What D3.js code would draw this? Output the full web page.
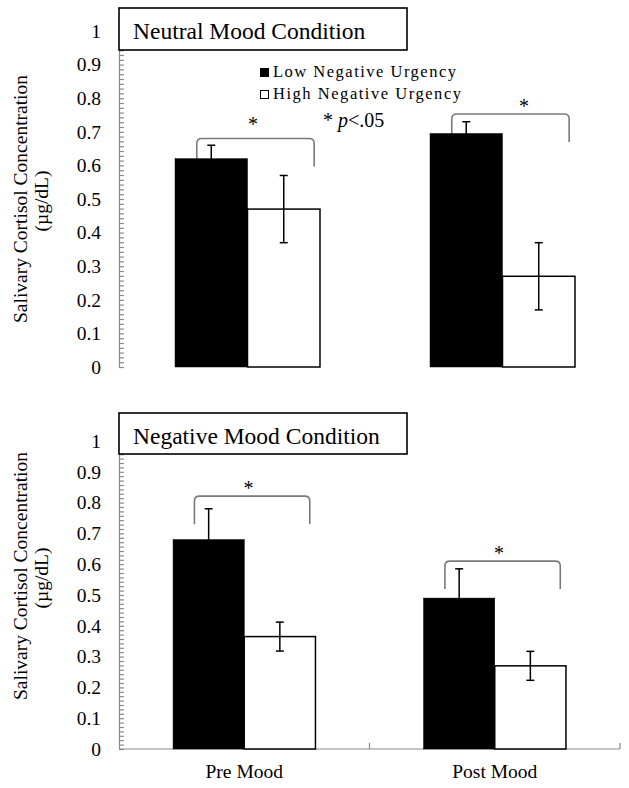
<!DOCTYPE html>
<html>
<head>
<meta charset="utf-8">
<script src="https://cdn.jsdelivr.net/npm/d3@7"></script>
<style>
  html, body { margin: 0; padding: 0; background: #fff; }
  svg { display: block; }
</style>
</head>
<body>
<script>
// ---------- data ----------
const categories = ["Pre Mood", "Post Mood"];
const series = ["Low Negative Urgency", "High Negative Urgency"];

const neutralLow = [0.62, 0.695];
const neutralLowErr = [0.04, 0.035];
const neutralHigh = [0.47, 0.27];
const neutralHighErr = [0.10, 0.10];

const negativeLow = [0.68, 0.49];
const negativeLowErr = [0.10, 0.095];
const negativeHigh = [0.365, 0.27];
const negativeHighErr = [0.047, 0.047];

// significance brackets (value level of bracket top, star level)
const neutralSigLevel = [0.68, 0.753];
const neutralStarLevel = [0.732, 0.786];
const negativeSigLevel = [0.821, 0.61];
const negativeStarLevel = [0.857, 0.646];
// where the star sits along each bracket (fraction of its width)
const neutralStarFrac = [0.48, 0.615];
const negativeStarFrac = [0.47, 0.47];

const yTickValues = [0, 0.1, 0.2, 0.3, 0.4, 0.5, 0.6, 0.7, 0.8, 0.9, 1];
const yTickLabels = ["0", "0.1", "0.2", "0.3", "0.4", "0.5", "0.6", "0.7", "0.8", "0.9", "1"];
const minorPerMajor = 7;

const panelTitles = ["Neutral Mood Condition", "Negative Mood Condition"];
const yTitle = ["Salivary Cortisol Concentration", "(µg/dL)"];

// ---------- drawing ----------
const W = 629, H = 788;
const FONT = "'Liberation Serif', 'Times New Roman', serif";
const AXIS_GRAY = "#8a8a8a";
const BRACKET_GRAY = "#7a7a7a";

const svg = d3.select("body").append("svg")
  .attr("width", W).attr("height", H)
  .style("font-family", FONT);

const minorTicks = d3.range(0, 10 * minorPerMajor + 1).map(i => i / (10 * minorPerMajor));

function drawPanel(cfg) {
  const g = svg.append("g");
  const x0 = d3.scaleBand().domain(categories).range(cfg.xRange).paddingInner(0).paddingOuter(0);
  const x1 = d3.scaleBand().domain(series).range([0, x0.bandwidth()]).paddingInner(0).paddingOuter(0.759);
  const y = d3.scaleLinear().domain([0, 1]).range(cfg.yRange);

  // y axis line and minor ticks (ticks point inward)
  const ya = g.append("g").attr("transform", `translate(${cfg.axisX},0)`)
    .call(d3.axisRight(y).tickValues(minorTicks).tickSize(5).tickSizeOuter(0).tickFormat(""));
  ya.selectAll("path, line").attr("stroke", AXIS_GRAY).attr("stroke-width", 1.2);

  // y tick labels
  const yl = g.append("g").attr("transform", `translate(${cfg.axisX},0)`)
    .call(d3.axisLeft(y).tickValues(yTickValues).tickSize(0).tickPadding(18)
      .tickFormat((d, i) => yTickLabels[i]));
  yl.select(".domain").remove();
  yl.selectAll("text").style("font-family", FONT).style("font-size", "19.5px").attr("fill", "#000");

  // bottom x axis (only when requested)
  if (cfg.showXAxis) {
    const xr = cfg.xRange;
    g.append("line").attr("x1", xr[0]).attr("x2", xr[1]).attr("y1", y(0)).attr("y2", y(0))
      .attr("stroke", AXIS_GRAY).attr("stroke-width", 1.2);
    g.selectAll(".xtick").data(categories).enter().append("line")
      .attr("x1", d => x0(d) + x0.bandwidth()).attr("x2", d => x0(d) + x0.bandwidth())
      .attr("y1", y(0)).attr("y2", y(0) - 6)
      .attr("stroke", AXIS_GRAY).attr("stroke-width", 1.2);
    const xl = g.append("g").attr("transform", `translate(0,${y(0)})`)
      .call(d3.axisBottom(x0).tickSize(0).tickPadding(15));
    xl.select(".domain").remove();
    xl.selectAll("text").style("font-family", FONT).style("font-size", "19.5px").attr("fill", "#000");
  }

  // significance brackets
  categories.forEach((c, i) => {
    const gx = x0(c) + x1(series[0]);
    const gw = x1.bandwidth() * 2;
    const xL = gx + 0.15 * gw, xR = gx + gw - 0.04 * gw;
    const yT = y(cfg.sig[i]);
    const drop = 28, r = 5;
    const p = d3.path();
    p.moveTo(xL, yT + drop);
    p.lineTo(xL, yT + r);
    p.quadraticCurveTo(xL, yT, xL + r, yT);
    p.lineTo(xR - r, yT);
    p.quadraticCurveTo(xR, yT, xR, yT + r);
    p.lineTo(xR, yT + drop);
    g.append("path").attr("d", p.toString()).attr("fill", "none")
      .attr("stroke", BRACKET_GRAY).attr("stroke-width", 1.6);
    g.append("text").attr("x", xL + (xR - xL) * cfg.starFrac[i]).attr("y", y(cfg.star[i]) + 10)
      .attr("text-anchor", "middle").style("font-size", "20px").text("*");
  });

  // bars
  const rows = [];
  categories.forEach((c, i) => {
    rows.push({ c, s: series[0], v: cfg.low[i], e: cfg.lowErr[i] });
    rows.push({ c, s: series[1], v: cfg.high[i], e: cfg.highErr[i] });
  });
  g.selectAll(".bar").data(rows).enter().append("rect")
    .attr("x", d => x0(d.c) + x1(d.s))
    .attr("y", d => y(d.v))
    .attr("width", x1.bandwidth())
    .attr("height", d => y(0) - y(d.v))
    .attr("fill", d => d.s === series[0] ? "#000" : "#fff")
    .attr("stroke", "#000")
    .attr("stroke-width", d => d.s === series[0] ? 0.5 : 1.5);

  // error bars
  const cap = 4;
  rows.forEach(d => {
    const cx = x0(d.c) + x1(d.s) + x1.bandwidth() / 2;
    const y1 = y(d.v + d.e), y2 = y(d.v - d.e);
    const col = "#000";
    g.append("line").attr("x1", cx).attr("x2", cx).attr("y1", y1).attr("y2", y2)
      .attr("stroke", col).attr("stroke-width", 1.5);
    [y1, y2].forEach(yy => g.append("line").attr("x1", cx - cap).attr("x2", cx + cap)
      .attr("y1", yy).attr("y2", yy).attr("stroke", col).attr("stroke-width", 1.5));
  });

  // title box
  g.append("rect").attr("x", cfg.axisX).attr("y", cfg.boxY).attr("width", 288).attr("height", cfg.boxH)
    .attr("fill", "#fff").attr("stroke", "#000").attr("stroke-width", 1.6);
  g.append("text").attr("x", cfg.axisX + 14).attr("y", cfg.boxY + 31)
    .style("font-size", "23.5px").text(cfg.title);

  // y axis title
  const cy = cfg.yTitleCenter;
  g.append("text").attr("transform", `translate(27,${cy}) rotate(-90)`)
    .attr("text-anchor", "middle").style("font-size", "19.5px").text(yTitle[0]);
  g.append("text").attr("transform", `translate(48,${cy + 2}) rotate(-90)`)
    .attr("text-anchor", "middle").style("font-size", "19.5px").text(yTitle[1]);

  return { g, x0, x1, y };
}

drawPanel({
  xRange: [120, 630], yRange: [367, 31], axisX: 119,
  low: neutralLow, lowErr: neutralLowErr, high: neutralHigh, highErr: neutralHighErr,
  sig: neutralSigLevel, star: neutralStarLevel, starFrac: neutralStarFrac,
  boxY: 8, boxH: 42, title: panelTitles[0], yTitleCenter: 199, showXAxis: false
});

drawPanel({
  xRange: [119, 620], yRange: [749, 441], axisX: 119,
  low: negativeLow, lowErr: negativeLowErr, high: negativeHigh, highErr: negativeHighErr,
  sig: negativeSigLevel, star: negativeStarLevel, starFrac: negativeStarFrac,
  boxY: 413, boxH: 41, title: panelTitles[1], yTitleCenter: 576, showXAxis: true
});

// legend (top panel)
const leg = svg.append("g");
series.forEach((s, i) => {
  const yy = 68 + i * 22;
  leg.append("rect").attr("x", 260.5).attr("y", yy + 0.5).attr("width", 8).attr("height", 8)
    .attr("fill", i === 0 ? "#000" : "#fff").attr("stroke", "#000").attr("stroke-width", 1);
  leg.append("text").attr("x", 273).attr("y", yy + 9)
    .attr("textLength", i === 0 ? 183 : 188).attr("lengthAdjust", "spacing")
    .style("font-size", "16.5px").text(s);
});

// significance note
const note = svg.append("text").attr("x", 323).attr("y", 127).style("font-size", "20px");
note.append("tspan").text("* ");
note.append("tspan").style("font-style", "italic").text("p");
note.append("tspan").text("<.05");
</script>
</body>
</html>
